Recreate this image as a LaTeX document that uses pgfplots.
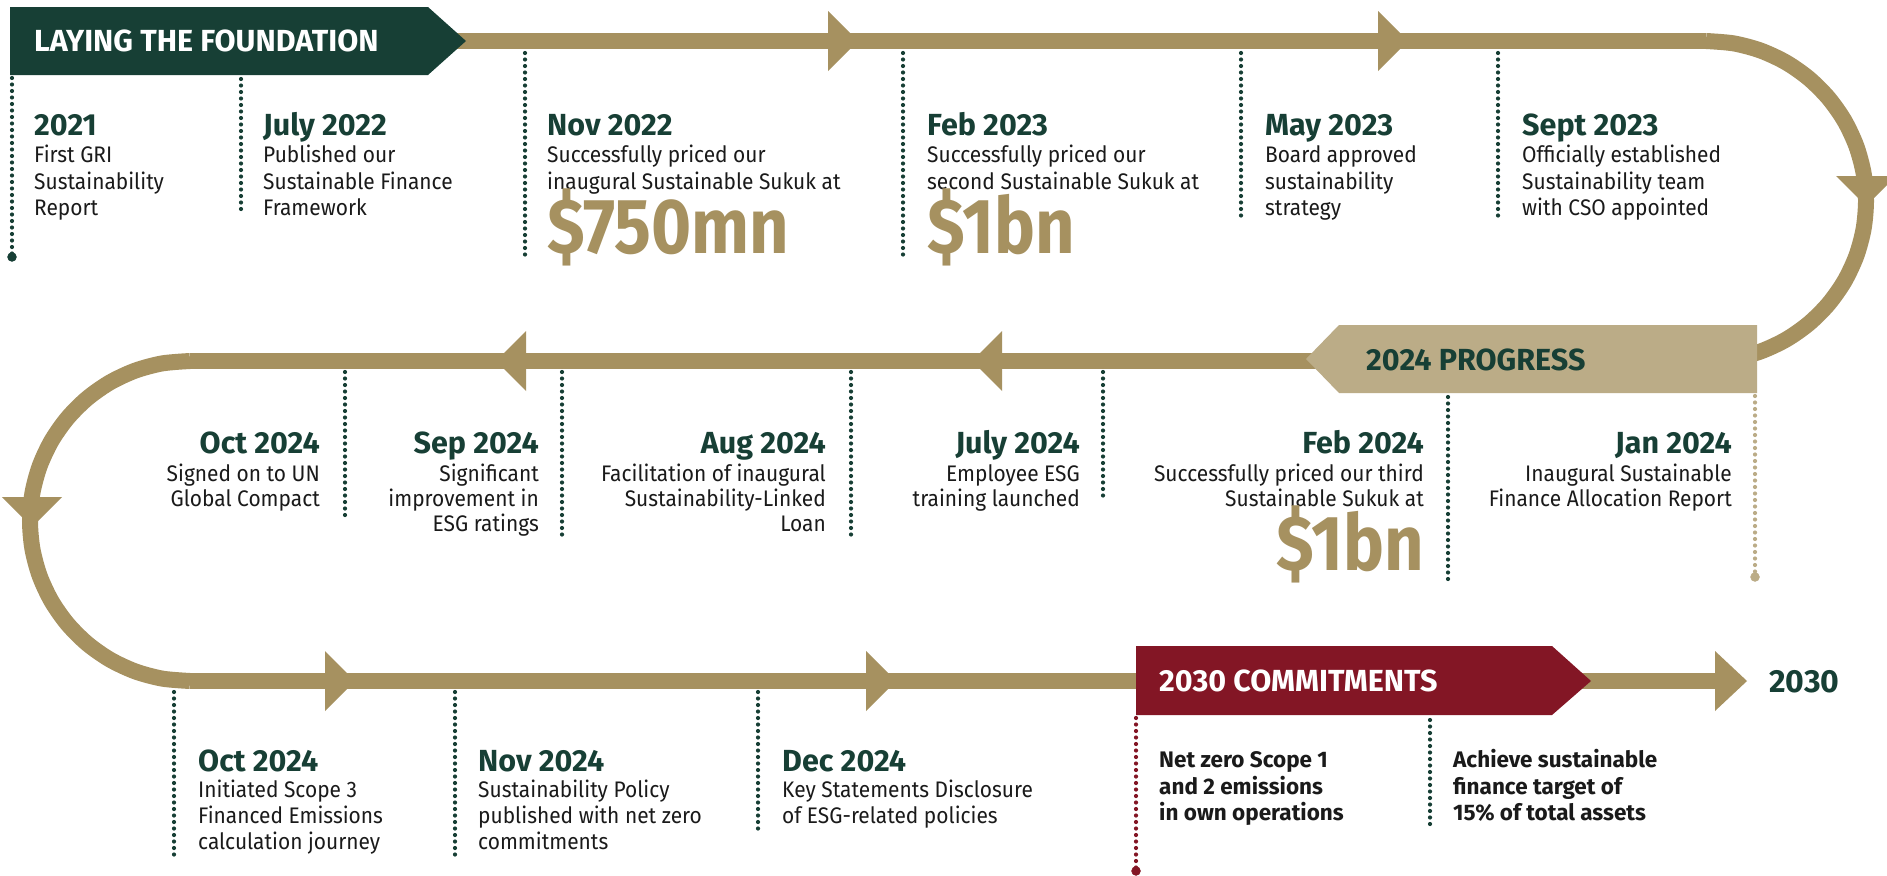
\documentclass[border=0pt]{standalone}
\usepackage{pgfplots}
\pgfplotsset{compat=1.18}
\usepackage{fontspec}
\setmainfont{Fira Sans}
\newfontfamily\bodyf[FakeStretch=0.93]{Fira Sans}
\newfontfamily\bigf[FakeStretch=0.88]{Fira Sans}
\definecolor{dgreen}{HTML}{173F35}
\definecolor{gold}{HTML}{A69160}
\definecolor{lgold}{HTML}{BBAC87}
\definecolor{maroon}{HTML}{831625}
\definecolor{tblack}{HTML}{1A1A1A}
\tikzset{
 dt/.style={anchor=base west, inner sep=0, text=dgreen, font=\fontsize{30.5bp}{32bp}\selectfont\bfseries},
 bd/.style={anchor=base west, inner sep=0, text=tblack, font=\bodyf\fontsize{22.5bp}{26bp}\selectfont},
 bb/.style={anchor=base west, inner sep=0, text=tblack, font=\fontsize{22.5bp}{26bp}\selectfont\bfseries},
 big/.style={anchor=base west, inner sep=0, text=gold, font=\bigf\fontsize{78bp}{80bp}\selectfont\bfseries},
 ban/.style={anchor=base west, inner sep=0, font=\fontsize{30.5bp}{32bp}\selectfont\bfseries},
 R/.style={anchor=base east},
 dotl/.style={line width=4.2bp, dash pattern=on 0bp off 6.5bp, line cap=round},
 track/.style={gold, line width=16bp, line cap=butt},
}
\begin{document}
\begin{tikzpicture}
\begin{axis}[x=1bp, y=1bp, y dir=reverse, xmin=0, xmax=1887, ymin=0, ymax=876,
  hide axis, clip=true, scale only axis]
% background
\addplot[fill=white, draw=none] coordinates {(0,0) (1887,0) (1887,876) (0,876)} -- cycle;
% track
\addplot[track] coordinates {(440,41) (1706,41)};
\addplot[track, smooth] coordinates {(1706,41)(1733.8,43.4)(1760.7,50.6)(1786,62.4)(1808.8,78.4)(1828.6,98.2)(1844.6,121)(1856.4,146.3)(1863.6,173.2)(1866,201)(1863.6,228.8)(1856.4,255.7)(1844.6,281)(1828.6,303.8)(1808.8,323.6)(1786,339.6)(1760.7,351.4)(1733.8,358.6)(1706,361)};
\addplot[track] coordinates {(1706,361) (190,361)};
\addplot[track, smooth] coordinates {(190,361)(162.2,363.4)(135.3,370.6)(110,382.4)(87.2,398.4)(67.4,418.2)(51.4,441)(39.6,466.3)(32.4,493.2)(30,521)(32.4,548.8)(39.6,575.7)(51.4,601)(67.4,623.8)(87.2,643.6)(110,659.6)(135.3,671.4)(162.2,678.6)(190,681)};
\addplot[track] coordinates {(190,681) (1725,681)};
% arrowheads
\addplot[fill=gold, draw=none] coordinates {(828,11) (828,71) (858,41)} -- cycle;
\addplot[fill=gold, draw=none] coordinates {(1378,11) (1378,71) (1408,41)} -- cycle;
\addplot[fill=gold, draw=none] coordinates {(1836,176) (1896,176) (1866,206)} -- cycle;
\addplot[fill=gold, draw=none] coordinates {(526,331) (526,391) (496,361)} -- cycle;
\addplot[fill=gold, draw=none] coordinates {(1002,331) (1002,391) (972,361)} -- cycle;
\addplot[fill=gold, draw=none] coordinates {(2,497) (62,497) (32,527)} -- cycle;
\addplot[fill=gold, draw=none] coordinates {(325,651) (325,711) (355,681)} -- cycle;
\addplot[fill=gold, draw=none] coordinates {(866,651) (866,711) (896,681)} -- cycle;
\addplot[fill=gold, draw=none] coordinates {(1715,651) (1715,711) (1747,681)} -- cycle;
% banners
\addplot[fill=dgreen, draw=none] coordinates {(10,7) (428,7) (466,41) (428,75) (10,75)} -- cycle;
\addplot[fill=lgold, draw=none] coordinates {(1339,325) (1757,325) (1757,393) (1339,393) (1306,359)} -- cycle;
\addplot[fill=maroon, draw=none] coordinates {(1136,646) (1552,646) (1591,681) (1552,715) (1136,715)} -- cycle;
% dotted leaders, top row
\addplot[dgreen, dotl] coordinates {(12,78) (12,257)};
\addplot[dgreen, dotl] coordinates {(241,79) (241,213)};
\addplot[dgreen, dotl] coordinates {(525,53) (525,255)};
\addplot[dgreen, dotl] coordinates {(903,53) (903,255)};
\addplot[dgreen, dotl] coordinates {(1241,53) (1241,222)};
\addplot[dgreen, dotl] coordinates {(1498,53) (1498,222)};
% middle row
\addplot[lgold, dotl] coordinates {(1755,396) (1755,575)};
\addplot[dgreen, dotl] coordinates {(1448,397) (1448,582)};
\addplot[dgreen, dotl] coordinates {(1103,372) (1103,496)};
\addplot[dgreen, dotl] coordinates {(851,372) (851,538)};
\addplot[dgreen, dotl] coordinates {(562,372) (562,538)};
\addplot[dgreen, dotl] coordinates {(345,372) (345,521)};
% bottom row
\addplot[dgreen, dotl] coordinates {(174,692) (174,855)};
\addplot[dgreen, dotl] coordinates {(455,692) (455,855)};
\addplot[dgreen, dotl] coordinates {(758,692) (758,830)};
\addplot[maroon, dotl] coordinates {(1136,718) (1136,870)};
\addplot[dgreen, dotl] coordinates {(1430,720) (1430,830)};
% end dots
\addplot[only marks, mark=*, mark size=4.5, dgreen] coordinates {(12,257)};
\addplot[only marks, mark=*, mark size=4.5, lgold] coordinates {(1755,577)};
\addplot[only marks, mark=*, mark size=4.5, maroon] coordinates {(1136,871)};
% banner texts
\node[ban, text=white] at (axis cs:34,51.5) {LAYING THE FOUNDATION};
\node[ban, text=dgreen] at (axis cs:1366,370) {2024 PROGRESS};
\node[ban, text=white] at (axis cs:1159,691) {2030 COMMITMENTS};
\node[ban, text=dgreen, font=\fontsize{32bp}{34bp}\selectfont\bfseries] at (axis cs:1769,692) {2030};
% top row texts
\node[dt] at (axis cs:34,135) {2021};
\node[bd] at (axis cs:34,162) {First GRI};
\node[bd] at (axis cs:34,189) {Sustainability};
\node[bd] at (axis cs:34,215) {Report};
\node[dt] at (axis cs:263,135) {July 2022};
\node[bd] at (axis cs:263,162) {Published our};
\node[bd] at (axis cs:263,189) {Sustainable Finance};
\node[bd] at (axis cs:263,215) {Framework};
\node[dt] at (axis cs:547,135) {Nov 2022};
\node[bd] at (axis cs:547,162) {Successfully priced our};
\node[bd] at (axis cs:547,189) {inaugural Sustainable Sukuk at};
\node[big] at (axis cs:547,253) {\$750mn};
\node[dt] at (axis cs:927,135) {Feb 2023};
\node[bd] at (axis cs:927,162) {Successfully priced our};
\node[bd] at (axis cs:927,189) {second Sustainable Sukuk at};
\node[big] at (axis cs:927,253) {\$1bn};
\node[dt] at (axis cs:1265,135) {May 2023};
\node[bd] at (axis cs:1265,162) {Board approved};
\node[bd] at (axis cs:1265,189) {sustainability};
\node[bd] at (axis cs:1265,215) {strategy};
\node[dt] at (axis cs:1522,135) {Sept 2023};
\node[bd] at (axis cs:1522,162) {Officially established};
\node[bd] at (axis cs:1522,189) {Sustainability team};
\node[bd] at (axis cs:1522,215) {with CSO appointed};
% middle row texts
\node[dt,R] at (axis cs:1732,453) {Jan 2024};
\node[bd,R] at (axis cs:1732,481) {Inaugural Sustainable};
\node[bd,R] at (axis cs:1732,506) {Finance Allocation Report};
\node[dt,R] at (axis cs:1424,453) {Feb 2024};
\node[bd,R] at (axis cs:1424,481) {Successfully priced our third};
\node[bd,R] at (axis cs:1424,506) {Sustainable Sukuk at};
\node[big,R] at (axis cs:1424,570) {\$1bn};
\node[dt,R] at (axis cs:1080,453) {July 2024};
\node[bd,R] at (axis cs:1080,481) {Employee ESG};
\node[bd,R] at (axis cs:1080,506) {training launched};
\node[dt,R] at (axis cs:826,453) {Aug 2024};
\node[bd,R] at (axis cs:826,481) {Facilitation of inaugural};
\node[bd,R] at (axis cs:826,506) {Sustainability-Linked};
\node[bd,R] at (axis cs:826,531) {Loan};
\node[dt,R] at (axis cs:539,453) {Sep 2024};
\node[bd,R] at (axis cs:539,481) {Significant};
\node[bd,R] at (axis cs:539,506) {improvement in};
\node[bd,R] at (axis cs:539,531) {ESG ratings};
\node[dt,R] at (axis cs:320,453) {Oct 2024};
\node[bd,R] at (axis cs:320,481) {Signed on to UN};
\node[bd,R] at (axis cs:320,506) {Global Compact};
% bottom row texts
\node[dt] at (axis cs:198,771) {Oct 2024};
\node[bd] at (axis cs:198,797) {Initiated Scope 3};
\node[bd] at (axis cs:198,823) {Financed Emissions};
\node[bd] at (axis cs:198,849) {calculation journey};
\node[dt] at (axis cs:478,771) {Nov 2024};
\node[bd] at (axis cs:478,797) {Sustainability Policy};
\node[bd] at (axis cs:478,823) {published with net zero};
\node[bd] at (axis cs:478,849) {commitments};
\node[dt] at (axis cs:782,771) {Dec 2024};
\node[bd] at (axis cs:782,797) {Key Statements Disclosure};
\node[bd] at (axis cs:782,823) {of ESG-related policies};
\node[bb] at (axis cs:1159,767) {Net zero Scope 1};
\node[bb] at (axis cs:1159,794) {and 2 emissions};
\node[bb] at (axis cs:1159,820) {in own operations};
\node[bb] at (axis cs:1453,767) {Achieve sustainable};
\node[bb] at (axis cs:1453,794) {finance target of};
\node[bb] at (axis cs:1453,820) {15\% of total assets};
\end{axis}
\end{tikzpicture}
\end{document}
